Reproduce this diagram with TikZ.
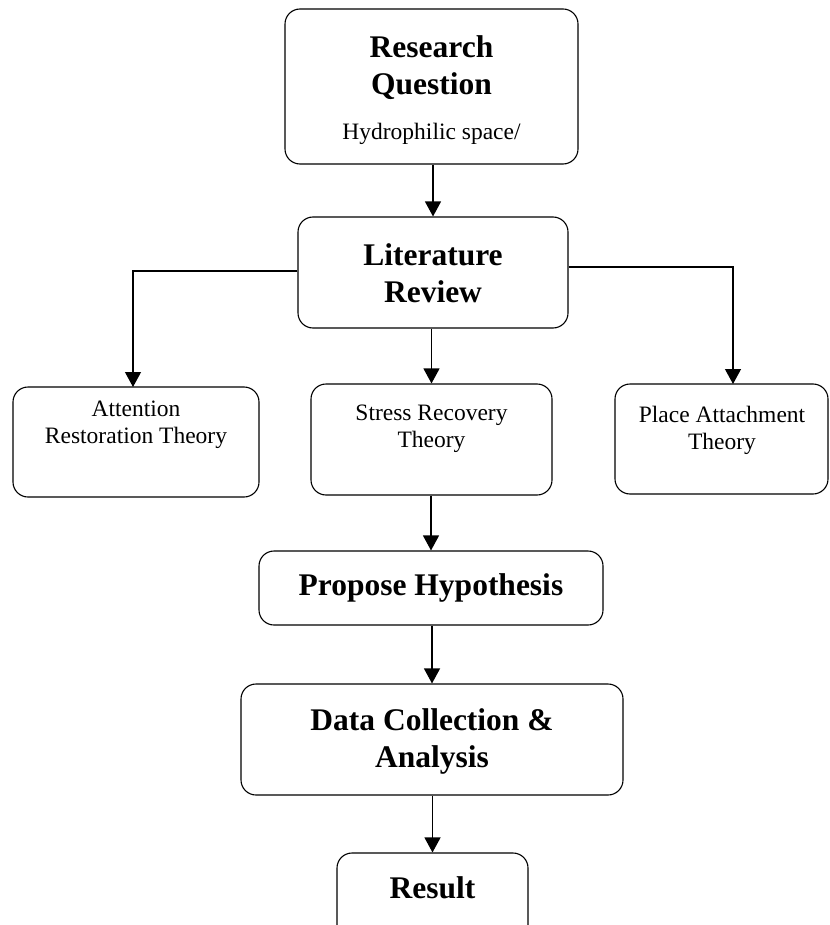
\documentclass[tikz,border=0pt]{standalone}
\usepackage{fontspec}
\setmainfont{Liberation Serif}
\usetikzlibrary{arrows.meta}
\begin{document}
\begin{tikzpicture}[x=1pt,y=-1pt,
  box/.style={draw, rounded corners=15pt, line width=1.1pt, inner sep=0pt},
  bt/.style={font=\fontsize{31.5}{37}\selectfont\bfseries, anchor=base, inner sep=0pt},
  rt/.style={font=\fontsize{23.5}{28}\selectfont, anchor=base, inner sep=0pt},
  arr/.style={line width=1.2pt, -{Triangle[length=15pt,width=16pt]}}]
\clip (0,0) rectangle (829,925);
\fill[white] (0,0) rectangle (829,925);
% boxes
\node[box, minimum width=293, minimum height=155] (rq) at (431.5,86.5) {};
\node[box, minimum width=270, minimum height=111] (lr) at (433,272.5) {};
\node[box, minimum width=246, minimum height=110] (art) at (136,442) {};
\node[box, minimum width=241, minimum height=111] (srt) at (431.5,439.5) {};
\node[box, minimum width=213, minimum height=110] (pat) at (721.5,439) {};
\node[box, minimum width=344, minimum height=74] (ph) at (431,588) {};
\node[box, minimum width=382, minimum height=111] (dc) at (432,739.5) {};
\node[box, minimum width=191, minimum height=90] (res) at (432.5,898) {};
% texts
\node[bt] (rq1) at (431.5,58) {Research};
\node[bt] (rq2) at (431.5,95) {Question};
\node[rt] (rq3) at (431.5,140) {Hydrophilic space/};
\node[bt] (lr1) at (433,265) {Literature};
\node[bt] (lr2) at (433,302) {Review};
\node[rt] (art1) at (136,416) {Attention};
\node[rt] (art2) at (136,443) {Restoration Theory};
\node[rt] (srt1) at (431.5,420) {Stress Recovery};
\node[rt] (srt2) at (431.5,447) {Theory};
\node[rt] (pat1) at (722,422) {Place Attachment};
\node[rt] (pat2) at (722,449) {Theory};
\node[bt] (ph1) at (431,595) {Propose Hypothesis};
\node[bt] (dc1) at (432,730) {Data Collection \&};
\node[bt] (dc2) at (432,767) {Analysis};
\node[bt] (res1) at (432.5,898) {Result};
% connectors
\draw[arr] (rq.south -| lr.north) -- (lr.north);
\coordinate (lrl) at (lr.west |- 0,271);
\coordinate (lrr) at (lr.east |- 0,267);
\coordinate (patin) at (733,384);
\coordinate (artin) at (133,387);
\draw[arr] (lrl) -| (artin);
\draw[arr] (lrr) -| (patin);
\draw[arr] (lr.south -| srt.north) -- (srt.north);
\draw[arr] (srt.south -| ph.north) -- (ph.north);
\draw[arr] (ph.south -| dc.north) -- (dc.north);
\draw[arr] (dc.south -| res.north) -- (res.north);
\end{tikzpicture}
\end{document}
